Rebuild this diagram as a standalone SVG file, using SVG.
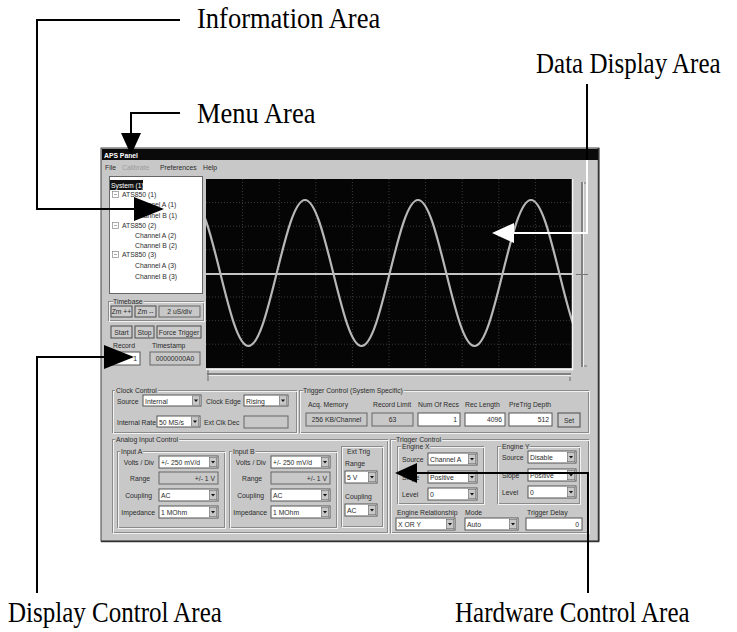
<svg xmlns="http://www.w3.org/2000/svg" width="737" height="632" viewBox="0 0 737 632">
<defs>
<style>
.ui{font-family:"Liberation Sans",Arial,sans-serif;font-size:6.8px;fill:#2b2b2b}
.lb{paint-order:stroke;stroke:#c8c8c8;stroke-width:3px}
.dim{fill:#9c9c9c}
.wt{fill:#fff}
.gb{fill:none;stroke:#8a8a8a;stroke-width:1}
.gbh{fill:none;stroke:#f2f2f2;stroke-width:1}
.fld{fill:#fff;stroke:#555;stroke-width:1}
.ro{fill:#c8c8c8;stroke:#666;stroke-width:1}
.btn{fill:#cbcbcb;stroke:#4a4a4a;stroke-width:1}
.call{font-family:"Liberation Serif","Times New Roman",serif;font-size:25px;fill:#000}
.big{font-size:26.5px}
.con{fill:none;stroke:#000;stroke-width:2}
.conw{fill:none;stroke:#fff;stroke-width:2}
.grid{stroke:#4a4a4a;stroke-width:0.8;stroke-dasharray:1 2}
</style>
<marker id="ah" markerUnits="userSpaceOnUse" markerWidth="22" markerHeight="20" viewBox="0 0 22 20" refX="12" refY="10" orient="auto"><path d="M0,0 L22,10 L0,20 z" fill="#000"/></marker>
<marker id="ahL" markerUnits="userSpaceOnUse" markerWidth="30" markerHeight="24" viewBox="0 0 30 24" refX="18" refY="12" orient="auto"><path d="M0,0 L30,12 L0,24 z" fill="#000"/></marker>
<marker id="ahw" markerUnits="userSpaceOnUse" markerWidth="22" markerHeight="20" viewBox="0 0 22 20" refX="12" refY="10" orient="auto"><path d="M0,0 L22,10 L0,20 z" fill="#fff"/></marker>
<symbol id="dd" width="8" height="10" viewBox="0 0 8 10"><rect x="0.3" y="0.3" width="7.4" height="9.4" fill="#c8c8c8" stroke="#666" stroke-width="0.6"/><path d="M2,4 L6,4 L4,6.5 z" fill="#111"/></symbol>
<clipPath id="scr"><rect x="206" y="179" width="366" height="189"/></clipPath>
</defs>
<rect width="737" height="632" fill="#fff"/>

<g id="app-window">
<rect x="101" y="148" width="498" height="393" fill="#c8c8c8" stroke="#444" stroke-width="1"/>
<path d="M598.5,148V541.5H101" fill="none" stroke="#333" stroke-width="1.5"/>
<rect x="102" y="149" width="496" height="11" fill="#0a0a0a"/>
<text class="ui wt" x="104" y="157.5" font-weight="bold">APS Panel</text>
<text class="ui" x="105" y="170">File</text>
<text class="ui dim" x="122" y="170">Calibrate</text>
<text class="ui" x="160" y="170">Preferences</text>
<text class="ui" x="203" y="170">Help</text>
</g>

<g id="info-tree">
<rect x="109.5" y="176.5" width="93" height="117" fill="#fff" stroke="#666"/>
<rect x="110" y="180" width="33" height="10" fill="#111"/>
<text class="ui wt" x="111" y="188">System (1)</text>
<g fill="none" stroke="#888" stroke-width="0.7">
<rect x="112.5" y="191.5" width="6" height="6"/><path d="M114,194.5 h3"/>
<rect x="112.5" y="222.5" width="6" height="6"/><path d="M114,225.5 h3"/>
<rect x="112.5" y="251.5" width="6" height="6"/><path d="M114,254.5 h3"/>
</g>
<text class="ui" x="122" y="197">ATS850 (1)</text>
<text class="ui" x="135" y="207">Channel A (1)</text>
<text class="ui" x="135" y="218">Channel B (1)</text>
<text class="ui" x="122" y="228">ATS850 (2)</text>
<text class="ui" x="135" y="238">Channel A (2)</text>
<text class="ui" x="135" y="248">Channel B (2)</text>
<text class="ui" x="122" y="257">ATS850 (3)</text>
<text class="ui" x="135" y="268">Channel A (3)</text>
<text class="ui" x="135" y="279">Channel B (3)</text>
</g>

<g id="display-controls">
<rect class="gb" x="108.5" y="301.5" width="95" height="19"/>
<rect class="gbh" x="109.5" y="302.5" width="95" height="19"/>
<text class="ui lb" x="113" y="304">Timebase</text>
<rect class="btn" x="111" y="306" width="21" height="11"/><text class="ui" x="121.5" y="314" text-anchor="middle">Zm ++</text>
<rect class="btn" x="135" y="306" width="21" height="11"/><text class="ui" x="145.5" y="314" text-anchor="middle">Zm --</text>
<rect class="ro" x="159" y="306" width="41" height="11"/><text class="ui" x="179.5" y="314" text-anchor="middle">2 uS/div</text>
<rect class="btn" x="111" y="326" width="21" height="12"/><text class="ui" x="121.5" y="334.5" text-anchor="middle">Start</text>
<rect class="btn" x="135" y="326" width="19" height="12"/><text class="ui" x="144.5" y="334.5" text-anchor="middle">Stop</text>
<rect class="btn" x="157" y="326" width="44" height="12"/><text class="ui" x="179" y="334.5" text-anchor="middle">Force Trigger</text>
<text class="ui" x="113" y="348">Record</text>
<text class="ui" x="152" y="348">Timestamp</text>
<rect class="fld" x="111" y="352" width="29" height="13"/><text class="ui" x="137" y="361" text-anchor="end">1</text>
<rect class="ro" x="150" y="352" width="50" height="13"/><text class="ui" x="175" y="361" text-anchor="middle">00000000A0</text>
</g>

<g id="data-display">
<rect x="206" y="179" width="366" height="189" fill="#050505"/>
<g class="grid">
<path d="M242.6,179V368M279.2,179V368M315.8,179V368M352.4,179V368M389,179V368M425.6,179V368M462.2,179V368M498.8,179V368M535.4,179V368"/>
<path d="M206,202.6H572M206,226.2H572M206,249.8H572M206,297H572M206,320.6H572M206,344.2H572"/>
</g>
<path d="M206,274H586" stroke="#c4c4c4" stroke-width="2"/>
<path clip-path="url(#scr)" fill="none" stroke="#b8b8b8" stroke-width="2.2" d="M192,200 C202.17,200 210.81,234.7 220.25,273 C229.69,311.3 238.33,346 248.5,346 C258.67,346 267.31,311.3 276.75,273 C286.19,234.7 294.83,200 305,200 C315.17,200 323.81,234.7 333.25,273 C342.69,311.3 351.33,346 361.5,346 C371.67,346 380.31,311.3 389.75,273 C399.19,234.7 407.83,200 418,200 C428.17,200 436.81,234.7 446.25,273 C455.69,311.3 464.33,346 474.5,346 C484.67,346 493.31,311.3 502.75,273 C512.19,234.7 520.83,200 531,200 C541.17,200 549.81,234.7 559.25,273 C568.69,311.3 577.33,346 587.5,346"/>
<path d="M572.5,179V369.5H206" fill="none" stroke="#f4f4f4" stroke-width="1.5"/>
<path d="M582,182V367" stroke="#6a6a6a" stroke-width="1.5"/>
<path d="M583.5,182V367" stroke="#eee" stroke-width="1"/>
<path d="M584,183h3M584,366h3M576,274.5h12" stroke="#777" stroke-width="1"/>
<path d="M207,374H571" stroke="#6a6a6a" stroke-width="1.5"/>
<path d="M207,375.5H571" stroke="#eee" stroke-width="1"/>
<path d="M208,370V381M570,377V381" stroke="#777" stroke-width="1.2"/>
</g>

<g id="clock-control">
<rect class="gb" x="112.5" y="390.5" width="184" height="42"/>
<rect class="gbh" x="113.5" y="391.5" width="184" height="42"/>
<text class="ui lb" x="116" y="393">Clock Control</text>
<text class="ui" x="117" y="403.5">Source</text>
<rect class="fld" x="143" y="395" width="58" height="11"/><use href="#dd" x="192" y="395.5"/><text class="ui" x="145" y="403.5">Internal</text>
<text class="ui" x="206" y="403.5">Clock Edge</text>
<rect class="fld" x="244" y="395" width="44" height="11"/><use href="#dd" x="279" y="395.5"/><text class="ui" x="246" y="403.5">Rising</text>
<text class="ui" x="117" y="424.5">Internal Rate</text>
<rect class="fld" x="157" y="416" width="43" height="11"/><use href="#dd" x="191" y="416.5"/><text class="ui" x="159" y="424.5">50 MS/s</text>
<text class="ui" x="204" y="424.5">Ext Clk Dec</text>
<rect class="ro" x="244" y="416" width="44" height="12"/>
</g>

<g id="trigger-control-system">
<rect class="gb" x="299.5" y="390.5" width="289" height="42"/>
<rect class="gbh" x="300.5" y="391.5" width="289" height="42"/>
<text class="ui lb" x="303" y="393">Trigger Control (System Specific)</text>
<text class="ui" x="308" y="407">Acq. Memory</text>
<rect class="ro" x="306" y="413" width="61" height="13"/><text class="ui" x="336.5" y="422" text-anchor="middle">256 KB/Channel</text>
<text class="ui" x="373" y="407">Record Limit</text>
<rect class="ro" x="372" y="413" width="41" height="13"/><text class="ui" x="392.5" y="422" text-anchor="middle">63</text>
<text class="ui" x="418" y="407">Num Of Recs</text>
<rect class="fld" x="418" y="413" width="42" height="13"/><text class="ui" x="457" y="422" text-anchor="end">1</text>
<text class="ui" x="465" y="407">Rec Length</text>
<rect class="fld" x="465" y="413" width="40" height="13"/><text class="ui" x="502" y="422" text-anchor="end">4096</text>
<text class="ui" x="509" y="407">PreTrig Depth</text>
<rect class="fld" x="509" y="413" width="43" height="13"/><text class="ui" x="549" y="422" text-anchor="end">512</text>
<rect class="btn" x="558" y="413" width="22" height="14"/><text class="ui" x="569" y="422.5" text-anchor="middle">Set</text>
</g>

<g id="analog-input-control">
<rect class="gb" x="112.5" y="439.5" width="275" height="93"/>
<rect class="gbh" x="113.5" y="440.5" width="275" height="93"/>
<text class="ui lb" x="116" y="442">Analog Input Control</text>
<rect class="gb" x="117.5" y="451.5" width="107" height="76"/>
<rect class="gbh" x="118.5" y="452.5" width="107" height="76"/>
<text class="ui lb" x="121" y="454">Input A</text>
<text class="ui" x="154" y="465" text-anchor="end">Volts / Div</text>
<rect class="fld" x="159" y="456" width="59" height="12"/><use href="#dd" x="209" y="457"/><text class="ui" x="161" y="465">+/- 250 mV/d</text>
<text class="ui" x="150" y="481" text-anchor="end">Range</text>
<rect class="ro" x="159" y="472" width="59" height="12"/><text class="ui" x="215" y="481" text-anchor="end">+/- 1 V</text>
<text class="ui" x="152" y="498" text-anchor="end">Coupling</text>
<rect class="fld" x="159" y="489" width="59" height="12"/><use href="#dd" x="209" y="490"/><text class="ui" x="161" y="498">AC</text>
<text class="ui" x="155" y="515" text-anchor="end">Impedance</text>
<rect class="fld" x="159" y="506" width="59" height="12"/><use href="#dd" x="209" y="507"/><text class="ui" x="161" y="515">1 MOhm</text>

<rect class="gb" x="229.5" y="451.5" width="107" height="76"/>
<rect class="gbh" x="230.5" y="452.5" width="107" height="76"/>
<text class="ui lb" x="233" y="454">Input B</text>
<text class="ui" x="266" y="465" text-anchor="end">Volts / Div</text>
<rect class="fld" x="271" y="456" width="59" height="12"/><use href="#dd" x="321" y="457"/><text class="ui" x="273" y="465">+/- 250 mV/d</text>
<text class="ui" x="262" y="481" text-anchor="end">Range</text>
<rect class="ro" x="271" y="472" width="59" height="12"/><text class="ui" x="327" y="481" text-anchor="end">+/- 1 V</text>
<text class="ui" x="264" y="498" text-anchor="end">Coupling</text>
<rect class="fld" x="271" y="489" width="59" height="12"/><use href="#dd" x="321" y="490"/><text class="ui" x="273" y="498">AC</text>
<text class="ui" x="267" y="515" text-anchor="end">Impedance</text>
<rect class="fld" x="271" y="506" width="59" height="12"/><use href="#dd" x="321" y="507"/><text class="ui" x="273" y="515">1 MOhm</text>

<rect class="gb" x="341.5" y="446.5" width="41" height="80"/>
<rect class="gbh" x="342.5" y="447.5" width="41" height="80"/>
<text class="ui" x="347" y="454">Ext Trig</text>
<text class="ui" x="345" y="466">Range</text>
<rect class="fld" x="345" y="471" width="32" height="12"/><use href="#dd" x="368" y="472"/><text class="ui" x="347" y="480">5 V</text>
<text class="ui" x="345" y="499">Coupling</text>
<rect class="fld" x="345" y="504" width="32" height="12"/><use href="#dd" x="368" y="505"/><text class="ui" x="347" y="513">AC</text>
</g>

<g id="trigger-control">
<rect class="gb" x="390.5" y="439.5" width="198" height="93"/>
<rect class="gbh" x="391.5" y="440.5" width="198" height="93"/>
<text class="ui lb" x="396" y="442">Trigger Control</text>
<rect class="gb" x="397.5" y="446.5" width="86" height="57"/>
<rect class="gbh" x="398.5" y="447.5" width="86" height="57"/>
<text class="ui lb" x="402" y="449">Engine X</text>
<text class="ui" x="402" y="462">Source</text>
<rect class="fld" x="428" y="453" width="49" height="12"/><use href="#dd" x="468" y="454"/><text class="ui" x="430" y="462">Channel A</text>
<text class="ui" x="402" y="480">Slope</text>
<rect class="fld" x="428" y="471" width="49" height="12"/><use href="#dd" x="468" y="472"/><text class="ui" x="430" y="480">Positive</text>
<text class="ui" x="402" y="497">Level</text>
<rect class="fld" x="428" y="488" width="49" height="12"/><use href="#dd" x="468" y="489"/><text class="ui" x="430" y="497">0</text>
<rect class="gb" x="497.5" y="446.5" width="82" height="57"/>
<rect class="gbh" x="498.5" y="447.5" width="82" height="57"/>
<text class="ui lb" x="502" y="449">Engine Y</text>
<text class="ui" x="502" y="460">Source</text>
<rect class="fld" x="528" y="451" width="48" height="12"/><use href="#dd" x="567" y="452"/><text class="ui" x="530" y="460">Disable</text>
<text class="ui" x="502" y="478">Slope</text>
<rect class="fld" x="528" y="469" width="48" height="12"/><use href="#dd" x="567" y="470"/><text class="ui" x="530" y="478">Positive</text>
<text class="ui" x="502" y="495">Level</text>
<rect class="fld" x="528" y="486" width="48" height="12"/><use href="#dd" x="567" y="487"/><text class="ui" x="530" y="495">0</text>
<text class="ui" x="397" y="515">Engine Relationship</text>
<rect class="fld" x="396" y="518" width="59" height="12"/><use href="#dd" x="446" y="519"/><text class="ui" x="398" y="527">X OR Y</text>
<text class="ui" x="465" y="515">Mode</text>
<rect class="fld" x="465" y="518" width="53" height="12"/><use href="#dd" x="509" y="519"/><text class="ui" x="467" y="527">Auto</text>
<text class="ui" x="527" y="515">Trigger Delay</text>
<rect class="fld" x="526" y="518" width="56" height="12"/><text class="ui" x="579" y="527" text-anchor="end">0</text>
</g>

<g id="connectors">
<polyline class="con" points="180,20 37,20 37,209 152,209" marker-end="url(#ahL)"/>
<polyline class="con" points="180,113 131,113 131,145" marker-end="url(#ah)"/>
<line class="con" x1="587" y1="84" x2="587" y2="160"/>
<polyline class="conw" points="587,160 587,233 502,233" marker-end="url(#ahw)"/>
<polyline class="con" points="37,593 37,357 122,357" marker-end="url(#ahL)"/>
<polyline class="con" points="588,593 588,473 405,473" marker-end="url(#ah)"/>
</g>

<g id="label-information"><text class="call big" transform="translate(197,28) scale(1,1.1)">Information Area</text></g>
<g id="label-data-display"><text class="call" transform="translate(536,73) scale(1,1.15)">Data Display Area</text></g>
<g id="label-menu"><text class="call big" transform="translate(197,123) scale(1,1.1)">Menu Area</text></g>
<g id="label-display-control"><text class="call" transform="translate(8,622) scale(1,1.15)">Display Control Area</text></g>
<g id="label-hardware-control"><text class="call" transform="translate(455,622) scale(1,1.15)">Hardware Control Area</text></g>
</svg>
